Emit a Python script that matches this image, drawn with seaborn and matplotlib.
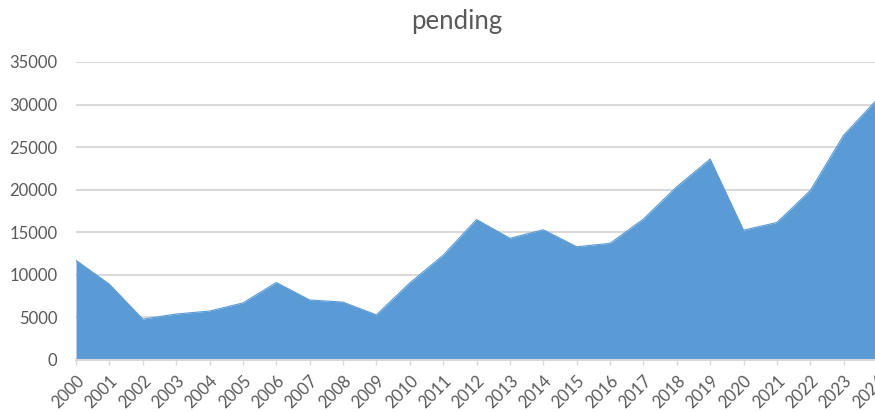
import matplotlib
matplotlib.use("Agg")
import matplotlib.pyplot as plt
import seaborn as sns
import pandas as pd

years = list(range(2000, 2025))
pending = [11700, 8900, 4800, 5400, 5750, 6700, 9100, 7050, 6800, 5300,
           9050, 12300, 16500, 14300, 15300, 13300, 13700, 16550, 20350,
           23600, 15250, 16150, 19900, 26400, 30600]
y_ticks = [0, 5000, 10000, 15000, 20000, 25000, 30000, 35000]

df = pd.DataFrame({"year": years, "pending": pending})

sns.set_theme(style="white")
plt.rcParams["font.family"] = ["Lato", "DejaVu Sans"]

fill_color = "#5b9bd5"
text_color = "#595959"
grid_color = "#d9d9d9"

fig = plt.figure(figsize=(8.75, 4.12), dpi=100)
ax = fig.add_axes([76 / 875, 52 / 412, 801 / 875, 298 / 412])

sns.lineplot(data=df, x="year", y="pending", ax=ax, color=fill_color,
             linewidth=0.8)
ax.fill_between(df["year"], df["pending"], 0, color=fill_color, linewidth=0,
                zorder=2)

ax.set_xlim(years[0], years[-1])
ax.set_ylim(0, 35000)
ax.set_yticks(y_ticks)
ax.set_yticklabels([str(v) for v in y_ticks])
ax.set_xticks(years)
ax.set_xticklabels([str(y) for y in years], rotation=45, ha="right",
                   rotation_mode="anchor")

ax.grid(axis="y", color=grid_color, linewidth=1.5, zorder=0)
ax.set_axisbelow(True)
for side in ["top", "right", "left"]:
    ax.spines[side].set_visible(False)
ax.spines["bottom"].set_color(grid_color)
ax.spines["bottom"].set_linewidth(1.5)
ax.spines["bottom"].set_zorder(3)

ax.tick_params(axis="x", which="major", bottom=True, length=3.6, width=1,
               color=grid_color, labelsize=12, labelcolor=text_color, pad=5.5)
ax.tick_params(axis="y", left=False, labelsize=12, labelcolor=text_color,
               pad=7.5)
ax.set_xlabel("")
ax.set_ylabel("")

fig.text(457 / 875, 1 - 21 / 412, "pending", ha="center", va="center",
         fontsize=18.5, color=text_color)

fig.savefig("out.png", dpi=100)
